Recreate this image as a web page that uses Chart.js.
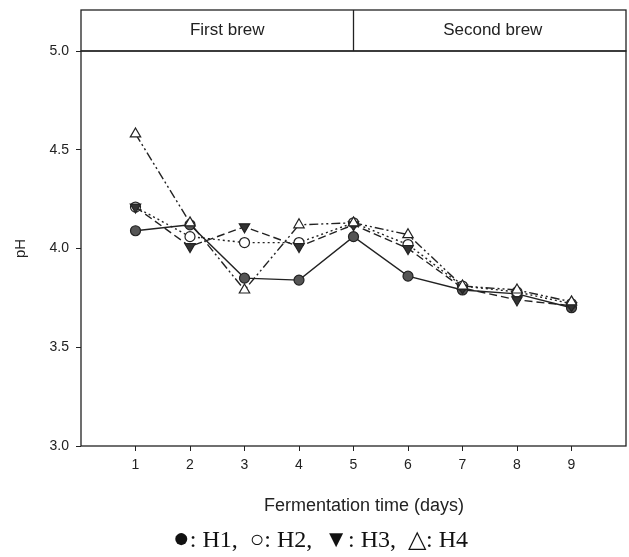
<!DOCTYPE html>
<html>
<head>
<meta charset="utf-8">
<script src="https://cdn.jsdelivr.net/npm/chart.js@4.4.1/dist/chart.umd.min.js"></script>
<style>
    html, body { margin: 0; padding: 0; background: #fff; }
    #wrap { position: relative; width: 629px; height: 557px; }
    #phChart { position: absolute; left: 0; top: 0; }
    #legendText {
        position: absolute; left: 6px; width: 629px; top: 522px;
        text-align: center; font-family: "Liberation Serif", "Times New Roman", serif;
        font-size: 24px; color: #111; white-space: pre;
    }
    #legendText .big { font-size: 28px; }
</style>
</head>
<body>
<div id="wrap">
    <canvas id="phChart" width="629" height="557"></canvas>
    <div id="legendText"><span class="big">●</span>: H1,  ○: H2,  ▼: H3,  △: H4</div>
</div>
<script>
/* data */

const days = [1, 2, 3, 4, 5, 6, 7, 8, 9];
const h1 = [4.09, 4.12, 3.85, 3.84, 4.06, 3.86, 3.79, 3.77, 3.70];
const h2 = [4.21, 4.06, 4.03, 4.03, 4.13, 4.02, 3.81, 3.78, 3.72];
const h3 = [4.21, 4.01, 4.11, 4.01, 4.12, 4.00, 3.80, 3.74, 3.71];
const h4 = [4.58, 4.13, 3.79, 4.12, 4.13, 4.07, 3.81, 3.79, 3.73];
const brewLabels = ["First brew", "Second brew"];
const brewSplit = 5;
const xTitle = "Fermentation time (days)";

const ink = "#222";
const sans = "'Liberation Sans', Arial, sans-serif";

const toPoints = values => values.map((v, i) => ({ x: days[i], y: v }));

/* header boxes, plot frame and x title */

const framePlugin = {
    id: "frame",
    afterDraw(chart) {
        const { ctx, chartArea, scales } = chart;
        const { left, right, top, bottom } = chartArea;
        const splitX = scales.x.getPixelForValue(brewSplit);
        const headTop = 10;

        ctx.save();
        ctx.strokeStyle = ink;
        ctx.lineWidth = 1.3;
        ctx.strokeRect(left, top, right - left, bottom - top);
        ctx.strokeRect(left, headTop, right - left, top - headTop);
        ctx.beginPath();
        ctx.moveTo(splitX, headTop);
        ctx.lineTo(splitX, top);
        ctx.stroke();

        ctx.fillStyle = ink;
        ctx.font = "17px " + sans;
        ctx.textAlign = "center";
        ctx.textBaseline = "middle";
        const midY = (headTop + top) / 2;
        ctx.fillText(brewLabels[0], (left + splitX) / 2 + 10, midY);
        ctx.fillText(brewLabels[1], (splitX + right) / 2 + 3, midY);

        ctx.font = "18px " + sans;
        ctx.fillText(xTitle, 364, 506);
        ctx.restore();
    }
};

const lineSet = (label, values, dash, style, fill, radius, rotation) => ({
    label: label,
    data: toPoints(values),
    borderColor: ink,
    borderWidth: 1.4,
    borderDash: dash,
    pointStyle: style,
    pointRadius: radius,
    pointRotation: rotation,
    pointBackgroundColor: fill,
    pointBorderColor: ink,
    pointBorderWidth: 1.2,
    tension: 0
});

new Chart(document.querySelector("#phChart"), {
    type: "line",
    data: {
        datasets: [
            lineSet("H4", h4, [9, 3, 2, 3, 2, 3], "triangle", "#fff", 6, 0),
            lineSet("H3", h3, [8, 4], "triangle", "#333", 6, 180),
            lineSet("H2", h2, [2, 3], "circle", "#fff", 5, 0),
            lineSet("H1", h1, [], "circle", "#555", 5, 0)
        ]
    },
    options: {
        responsive: false,
        animation: false,
        layout: { autoPadding: false, padding: { left: 0, top: 51, right: 3, bottom: 0 } },
        plugins: {
            legend: { display: false },
            tooltip: { enabled: false }
        },
        scales: {
            x: {
                type: "linear",
                min: 0,
                max: 10,
                afterBuildTicks: scale => {
                    scale.ticks = days.map(d => ({ value: d }));
                },
                afterFit: scale => {
                    scale.height = 111;
                    scale.paddingLeft = 0;
                    scale.paddingRight = 0;
                },
                ticks: {
                    color: ink,
                    font: { family: sans, size: 14 },
                    padding: 6,
                    maxRotation: 0
                },
                grid: { drawOnChartArea: false, tickLength: 5, color: ink },
                border: { display: false }
            },
            y: {
                min: 3,
                max: 5,
                afterFit: scale => { scale.width = 81; },
                ticks: {
                    stepSize: 0.5,
                    color: ink,
                    font: { family: sans, size: 14 },
                    padding: 7,
                    callback: value => value.toFixed(1)
                },
                grid: { drawOnChartArea: false, tickLength: 5, color: ink },
                border: { display: false },
                title: {
                    display: true,
                    text: "pH",
                    color: ink,
                    font: { family: sans, size: 15 },
                    padding: { top: 12, bottom: 0 }
                }
            }
        }
    },
    plugins: [framePlugin]
});
</script>
</body>
</html>
